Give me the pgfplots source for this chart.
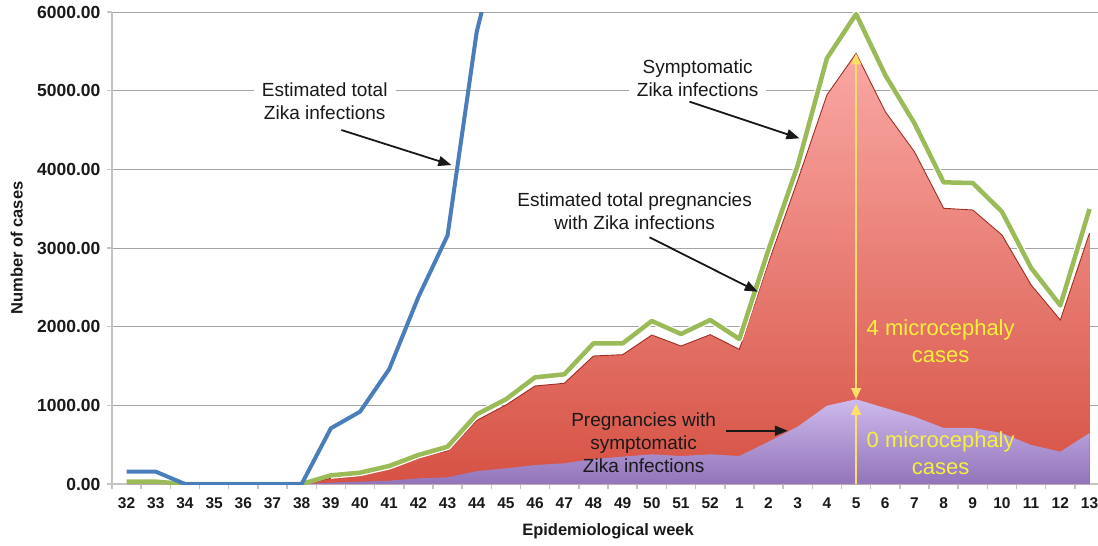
\documentclass[border=0pt]{standalone}
\usepackage{pgfplots}
\pgfplotsset{compat=1.18}
\usepackage{pgfplotstable}
\usepackage{fontspec}
\setmainfont{Liberation Sans}
\usetikzlibrary{arrows.meta}

\definecolor{zblue}{RGB}{74,126,187}
\definecolor{zgreen}{RGB}{155,187,89}
\definecolor{gridgray}{RGB}{165,165,165}
\definecolor{axgray}{RGB}{195,195,195}
\definecolor{redtop}{RGB}{250,168,164}
\definecolor{redbot}{RGB}{214,82,68}
\definecolor{rededge}{RGB}{160,45,35}
\definecolor{purtop}{RGB}{206,186,236}
\definecolor{purbot}{RGB}{146,116,186}
\definecolor{yarrow}{RGB}{255,222,105}
\definecolor{ytext}{RGB}{246,240,60}
\definecolor{txt}{RGB}{25,25,25}

% i = category index (0 = week 32 ... 20 = week 52, 21 = week 1 ... 33 = week 13)
\pgfplotstableread{
i green red purple
0 30 0 0
1 30 0 0
2 0 0 0
3 0 0 0
4 0 0 0
5 0 0 0
6 0 0 0
7 110 72 17
8 144 102 30
9 229 200 42
10 369 340 72
11 474 423 85
12 885 808 163
13 1077 1004 199
14 1356 1246 241
15 1394 1280 263
16 1788 1627 318
17 1788 1644 347
18 2072 1894 377
19 1907 1754 356
20 2085 1898 377
21 1843 1712 356
22 2980 2820 538
23 4050 3860 729
24 5411 4945 995
25 5974 5474 1077
26 5199 4733 966
27 4585 4224 856
28 3835 3505 712
29 3826 3483 712
30 3461 3165 648
31 2746 2530 496
32 2270 2085 411
33 3496 3190 648
}\areas

\pgfplotstableread{
i blue
0 157
1 157
2 0
3 0
4 0
5 0
6 0
7 708
8 919
9 1460
10 2377
11 3160
12 5750
13 7230
}\bluedata

\begin{document}
\begin{tikzpicture}
\begin{axis}[
  scale only axis, width=992.1pt, height=472pt,
  xmin=-0.5, xmax=33.5, ymin=0, ymax=6000,
  axis x line=bottom, axis y line=left,
  axis line style={draw=axgray, line width=1.8pt, -},
  xtick={0,...,33},
  xticklabels={32,33,34,35,36,37,38,39,40,41,42,43,44,45,46,47,48,49,50,51,52,1,2,3,4,5,6,7,8,9,10,11,12,13},
  minor xtick={-0.5,0.5,1.5,2.5,3.5,4.5,5.5,6.5,7.5,8.5,9.5,10.5,11.5,12.5,13.5,14.5,15.5,16.5,17.5,18.5,19.5,20.5,21.5,22.5,23.5,24.5,25.5,26.5,27.5,28.5,29.5,30.5,31.5,32.5,33.5},
  major x tick style={draw=none},
  minor x tick style={draw=axgray, line width=1.5pt},
  y tick style={draw=axgray, line width=1.5pt},
  tick align=outside, major tick length=5pt, minor tick length=5pt,
  ytick={0,1000,2000,3000,4000,5000,6000},
  yticklabels={0.00,1000.00,2000.00,3000.00,4000.00,5000.00,6000.00},
  ymajorgrids, major grid style={draw=gridgray, line width=0.9pt},
  /pgf/number format/assume math mode=true,
  yticklabel style={font=\fontsize{17.5}{20}\selectfont\bfseries, text=txt, xshift=-3pt},
  xticklabel style={font=\fontsize{15.5}{18}\selectfont\bfseries, text=txt, yshift=-5pt},
  xlabel={Epidemiological week}, ylabel={Number of cases},
  label style={font=\fontsize{16.5}{20}\selectfont\bfseries, text=txt},
  x label style={at={(axis description cs:0.5,-0.101)}, anchor=center},
  y label style={at={(axis description cs:-0.0961,0.5)}, anchor=center},
]
\addplot[draw=none, top color=redtop, bottom color=redbot] table[x=i,y=red]{\areas} \closedcycle;
\addplot[draw=none, top color=purtop, bottom color=purbot] table[x=i,y=purple]{\areas} \closedcycle;
\addplot[rededge, line width=0.9pt, restrict x to domain=6:33] table[x=i,y=red]{\areas};
\addplot[white, line width=7pt, line join=round, restrict x to domain=7:33] table[x=i,y=green]{\areas};
\addplot[zgreen, line width=4.5pt, line join=round] table[x=i,y=green]{\areas};
\addplot[zblue, line width=4pt, line join=round] table[x=i,y=blue]{\bluedata};

\node[align=center, fill=white, inner xsep=8pt, inner ysep=1pt, text=txt, font=\fontsize{19}{23}\selectfont] at (axis cs:6.79,4868) {Estimated total\\Zika infections};
\draw[txt, line width=1.8pt, -{Triangle[length=13pt,width=10pt]}] (axis cs:7.36,4500) -- (axis cs:11.13,4055);

\node[align=center, fill=white, inner xsep=8pt, inner ysep=1pt, text=txt, font=\fontsize{19}{23}\selectfont] at (axis cs:19.57,5154) {Symptomatic\\Zika infections};
\draw[txt, line width=1.8pt, -{Triangle[length=13pt,width=10pt]}] (axis cs:19.29,4860) -- (axis cs:23.06,4394);

\node[align=center, text=txt, font=\fontsize{19}{23}\selectfont] at (axis cs:17.41,3470) {Estimated total pregnancies\\with Zika infections};
\draw[txt, line width=1.8pt, -{Triangle[length=13pt,width=10pt]}] (axis cs:17.92,3136) -- (axis cs:21.63,2444);

\node[align=center, text=txt, font=\fontsize{19}{23}\selectfont] at (axis cs:17.72,521) {Pregnancies with\\symptomatic\\Zika infections};
\draw[txt, line width=1.8pt, -{Triangle[length=13pt,width=10pt]}] (axis cs:20.53,677) -- (axis cs:22.66,677);

\draw[yarrow, line width=1.6pt, {Triangle[length=11pt,width=10pt]}-{Triangle[length=11pt,width=10pt]}] (axis cs:25,5474) -- (axis cs:25,1080);
\draw[yarrow, line width=1.6pt, -{Triangle[length=11pt,width=10pt]}] (axis cs:25,0) -- (axis cs:25,1020);
\node[align=center, text=ytext, font=\fontsize{22}{27}\selectfont] at (axis cs:27.9,1811) {4 microcephaly\\cases};
\node[align=center, text=ytext, font=\fontsize{22}{27}\selectfont] at (axis cs:27.9,394) {0 microcephaly\\cases};
\end{axis}
\pgfresetboundingbox
\useasboundingbox (-112pt,-62pt) rectangle (986pt,484pt);
\end{tikzpicture}
\end{document}
